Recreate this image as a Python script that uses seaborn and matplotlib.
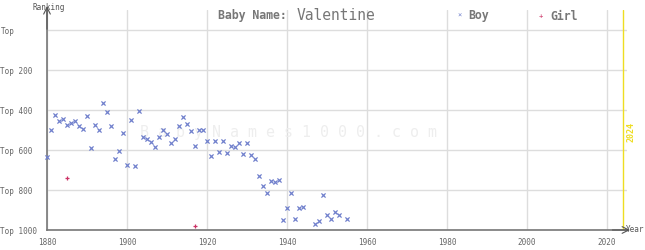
import matplotlib
matplotlib.use("Agg")
import matplotlib.pyplot as plt
import seaborn as sns
import pandas as pd

boy_years = [1880, 1881, 1882, 1883, 1884, 1885, 1886, 1887, 1888, 1889,
             1890, 1891, 1892, 1893, 1894, 1895, 1896, 1897, 1898, 1899,
             1900, 1901, 1902, 1903, 1904, 1905, 1906, 1907, 1908, 1909,
             1910, 1911, 1912, 1913, 1914, 1915, 1916, 1917, 1918, 1919,
             1920, 1921, 1922, 1923, 1924, 1925, 1926, 1927, 1928, 1929,
             1930, 1931, 1932, 1933, 1934, 1935, 1936, 1937, 1938, 1939,
             1940, 1941, 1942, 1943, 1944, 1947, 1948, 1949, 1950, 1951,
             1952, 1953, 1955]
boy_ranks = [636, 502, 425, 457, 447, 477, 467, 457, 482, 497,
             432, 592, 477, 502, 367, 412, 482, 647, 607, 517,
             677, 452, 682, 407, 537, 547, 562, 587, 537, 502,
             522, 567, 547, 482, 437, 472, 507, 582, 502, 502,
             557, 632, 557, 612, 557, 617, 582, 587, 567, 622,
             567, 627, 647, 732, 782, 817, 757, 762, 752, 952,
             892, 817, 947, 892, 887, 972, 957, 827, 927, 947,
             912, 927, 947]
girl_years = [1885, 1917]
girl_ranks = [742, 978]

x_ticks = [1880, 1900, 1920, 1940, 1960, 1980, 2000, 2020]
y_ticks = [0, 200, 400, 600, 800, 1000]
y_labels = ["Top", "Top 200", "Top 400", "Top 600", "Top 800", "Top 1000"]

boy_color = "#7080cc"
girl_color = "#cc3366"
text_color = "#666666"
mono = "DejaVu Sans Mono"

sns.set_theme(style="white")
plt.rcParams["font.family"] = [mono]

fig = plt.figure(figsize=(6.45, 2.5), dpi=100)
ax = fig.add_axes([47 / 645, 20 / 250, 580 / 645, 220 / 250])

df_b = pd.DataFrame({"year": boy_years, "rank": boy_ranks})
df_g = pd.DataFrame({"year": girl_years, "rank": girl_ranks})

ax.set_xlim(1880, 2025)
ax.set_ylim(1000, -100)

for xt in x_ticks:
    ax.axvline(xt, color="#dddddd", lw=1, zorder=0)
for yt in y_ticks:
    ax.axhline(yt, color="#dddddd", lw=1, zorder=0)

ax.axvline(2024, color="#eedd22", lw=1, zorder=1)
ax.text(2026, 510, "2024", rotation=90, color="#eedd22", fontsize=6,
        ha="center", va="center", fontweight="bold")

ax.text(0.417, 0.445, "B a b y N a m e s 1 0 0 0 . c o m", transform=ax.transAxes,
        ha="center", va="center", fontsize=10.8, color="#eeeeee", zorder=1)

sns.scatterplot(data=df_b, x="year", y="rank", marker="x", s=9, color=boy_color,
                linewidth=0.9, ax=ax, zorder=3, clip_on=False)
sns.scatterplot(data=df_g, x="year", y="rank", marker="+", s=12, color=girl_color,
                linewidth=0.9, ax=ax, zorder=3, clip_on=False)

ax.set_xticks(x_ticks)
ax.set_xticklabels([str(x) for x in x_ticks], fontsize=5.5, color=text_color)
ax.set_yticks(y_ticks)
ax.set_yticklabels(y_labels, fontsize=5.5, color=text_color)
for lab in ax.get_yticklabels():
    lab.set_horizontalalignment("left")
ax.tick_params(axis="y", length=0, pad=33.5)
ax.tick_params(axis="x", length=0, pad=6)
ax.set_xlabel("")
ax.set_ylabel("")

for s in ["top", "right"]:
    ax.spines[s].set_visible(False)
for s in ["left", "bottom"]:
    ax.spines[s].set_color("#777777")
    ax.spines[s].set_linewidth(1.2)

ax.annotate("", xy=(0, 1.03), xytext=(0, 0.9), xycoords="axes fraction",
            arrowprops=dict(arrowstyle="->", color="#555555", lw=0.8), annotation_clip=False)
ax.annotate("", xy=(1.01, 0), xytext=(0.97, 0), xycoords="axes fraction",
            arrowprops=dict(arrowstyle="->", color="#555555", lw=0.8), annotation_clip=False)

fig.text(49 / 645, 1 - 8 / 250, "Ranking", fontsize=5.5, color="#555555", ha="center", va="center")
fig.text(635 / 645, 1 - 230 / 250, "Year", fontsize=5.5, color="#555555", ha="center", va="center")

fig.text(218 / 645, 1 - 16 / 250, "Baby Name:", fontsize=8.3, color="#777777",
         fontweight="bold", ha="left", va="center")
fig.text(297 / 645, 1 - 16 / 250, "Valentine", fontsize=10.5, color="#777777",
         ha="left", va="center")

fig.text(460 / 645, 1 - 16 / 250, "×", fontsize=5, color=boy_color, ha="center", va="center")
fig.text(468 / 645, 1 - 16 / 250, "Boy", fontsize=8.3, color="#777777", fontweight="bold",
         ha="left", va="center")
fig.text(541 / 645, 1 - 16 / 250, "+", fontsize=5, color=girl_color, ha="center", va="center")
fig.text(550 / 645, 1 - 16 / 250, "Girl", fontsize=8.3, color="#777777", fontweight="bold",
         ha="left", va="center")

fig.savefig("out.png", dpi=100)
